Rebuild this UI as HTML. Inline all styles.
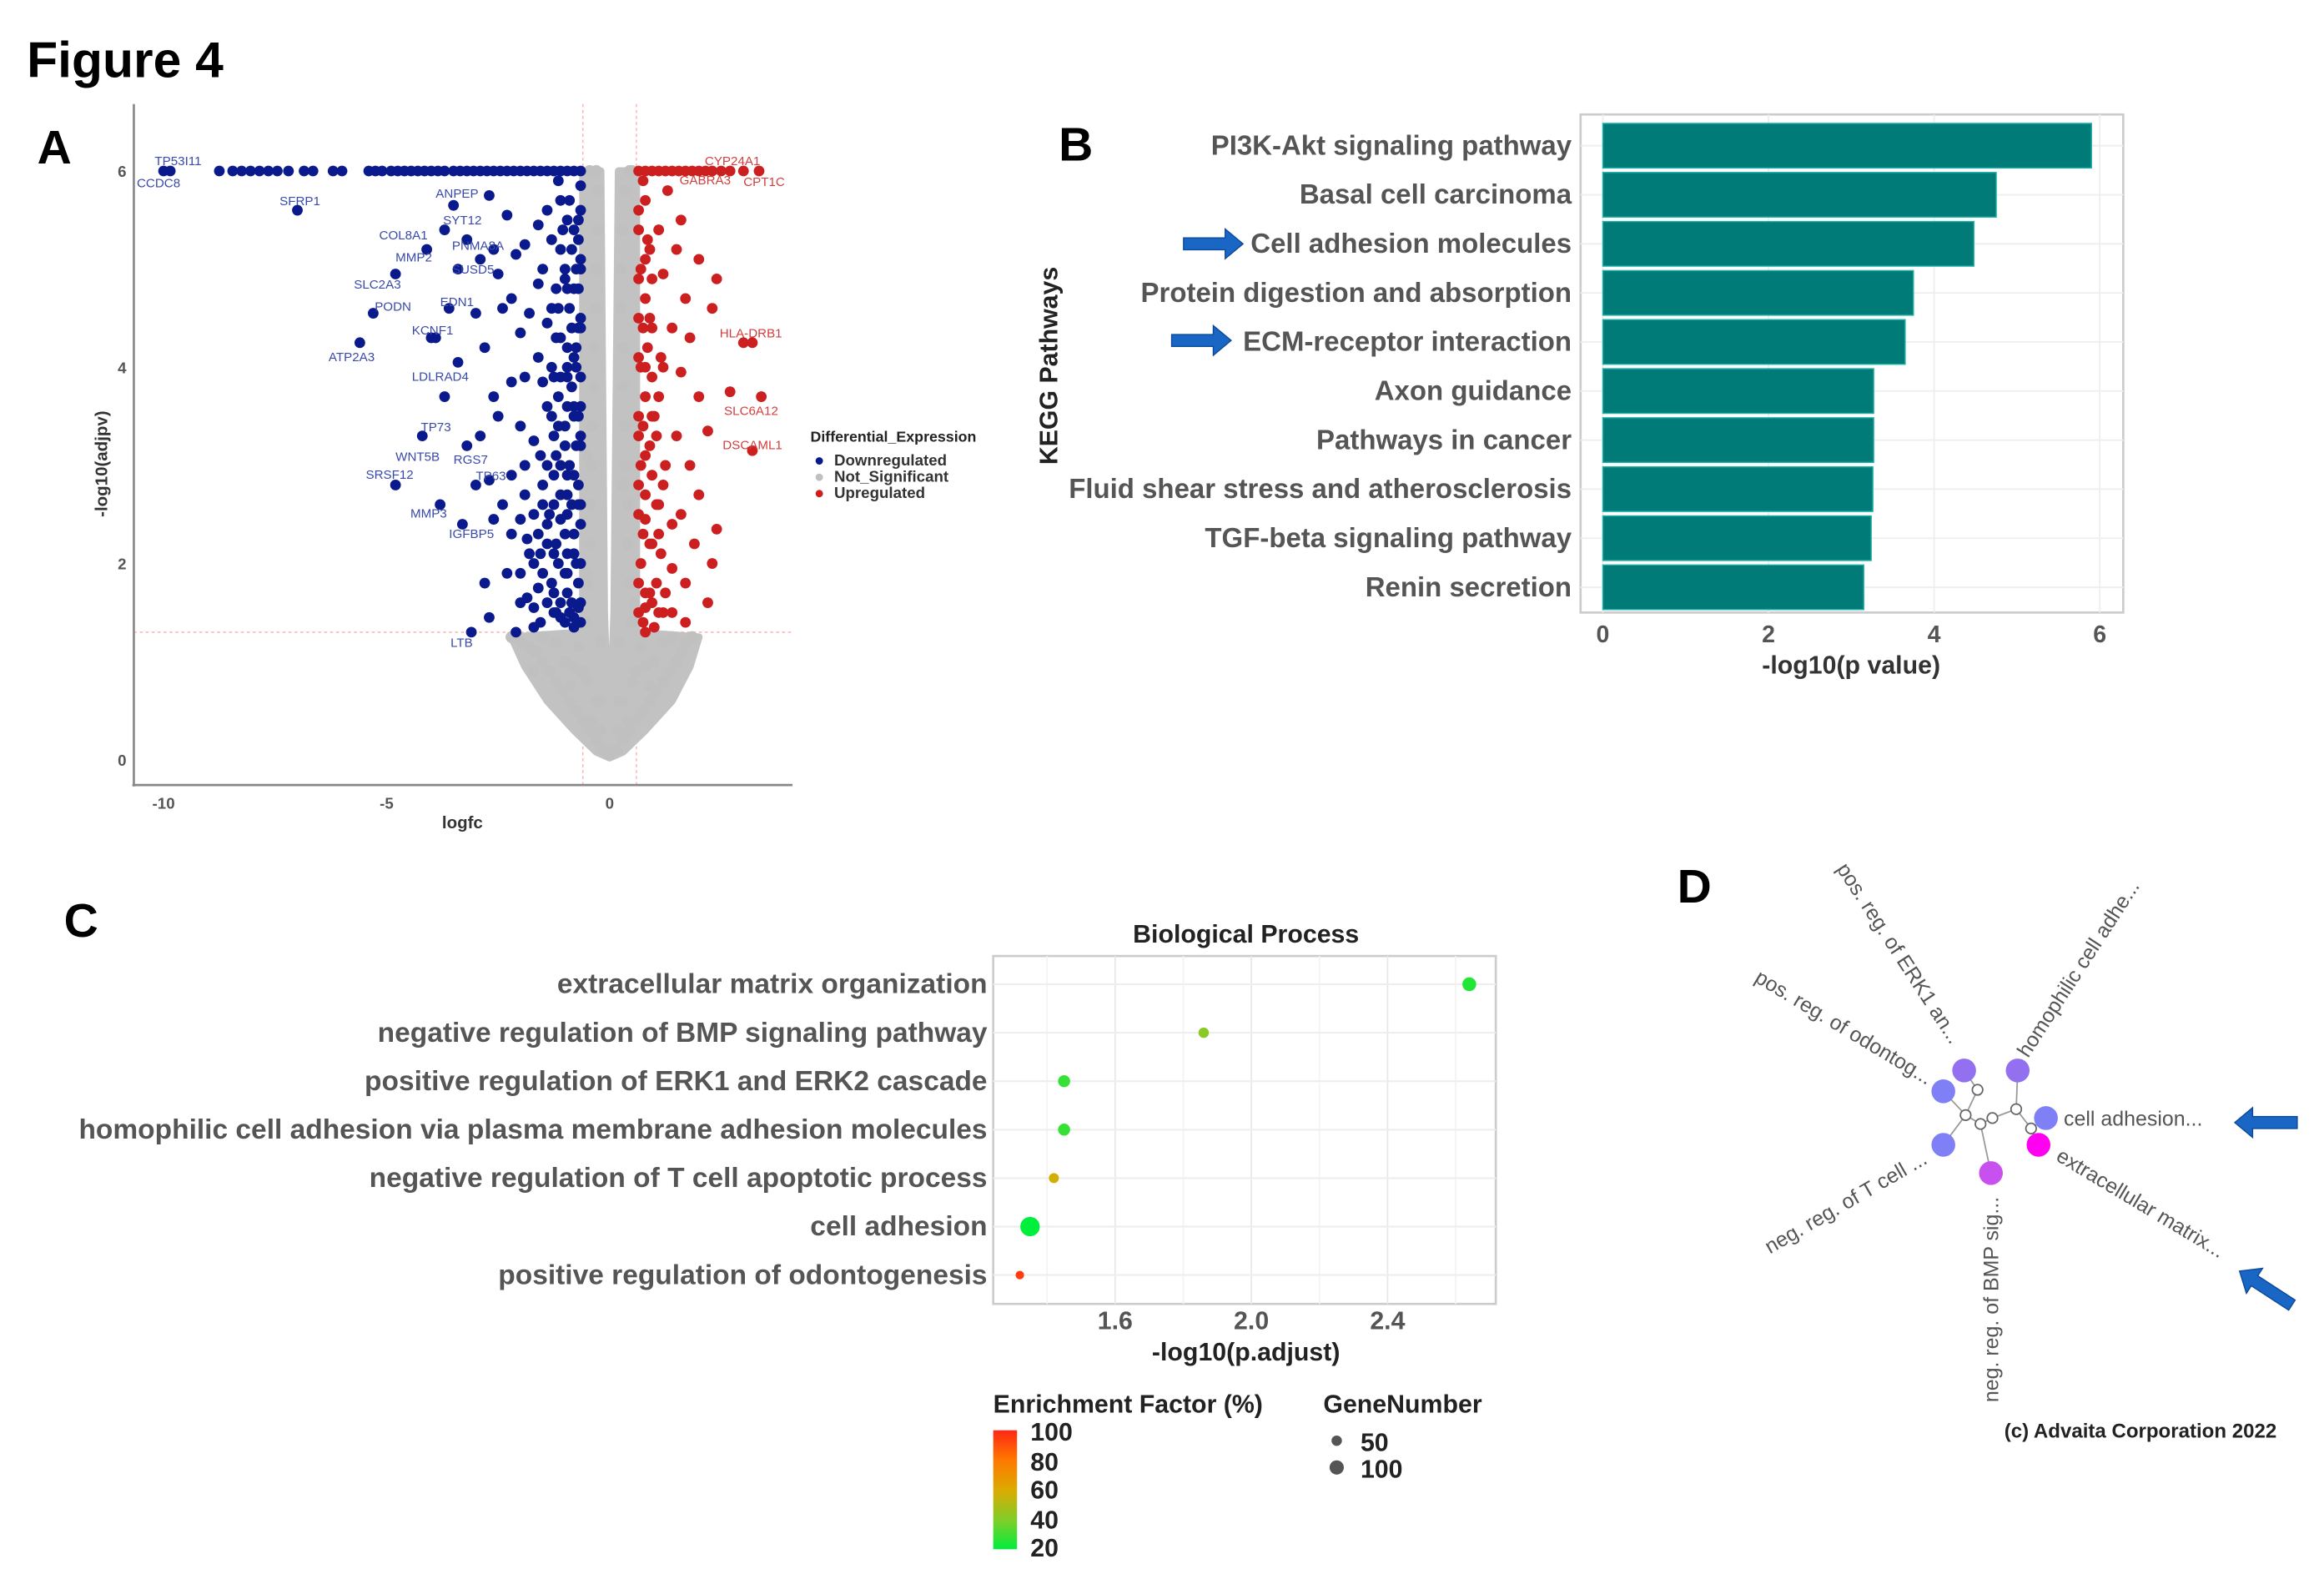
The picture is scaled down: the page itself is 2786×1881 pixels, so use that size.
<!DOCTYPE html>
<html><head><meta charset="utf-8"><style>
html,body{margin:0;padding:0;background:#fff}
svg{display:block}
text{font-family:"Liberation Sans",Arial,sans-serif}
</style></head><body>
<svg id="fig" width="2786" height="1881" viewBox="0 0 1563 1055.3" xmlns="http://www.w3.org/2000/svg">
<rect width="1563" height="1056" fill="#fff"/>
<text x="18" y="52" font-size="34" font-weight="bold">Figure 4</text>
<text x="25" y="110" font-size="32" font-weight="bold">A</text>
<text x="712" y="108" font-size="32" font-weight="bold">B</text>
<text x="43" y="630" font-size="32" font-weight="bold">C</text>
<text x="1128" y="607" font-size="32" font-weight="bold">D</text>
<g id="volcano"></g>
<g id="kegg"></g>
<g id="bp"></g>
<g id="net"></g>
</svg>
<script>
// ---------- Panel A data ----------
const downX=[-10,-9.85,-8.75,-8.45,-8.25,-8.05,-7.85,-7.65,-7.45,-7.2,-6.85,-6.65,-6.2,-6.0,-5.4,-5.25,-5.1,-4.9,-4.75,-4.6,-4.45,-4.3,-4.15,-4.0,-3.85,-3.7,-3.5,-3.35,-3.2,-3.05,-2.9,-2.75,-2.6,-2.45,-2.3,-2.15,-2.0,-1.85,-1.7,-1.55,-1.4,-1.25,-1.1,-0.95,-0.8,-0.65,
-7,-3.5,-2.7,-2.3,-1.6,-1.1,-3.7,-3.2,-4.1,-2.6,-2.1,-1.3,-1.9,-3.4,-2.5,-4.8,-1.6,-2.2,-1.2,-5.3,-3.9,-3.6,-3.0,-2.4,-1.8,-1.4,-5.6,-4.0,-2.8,-2.0,-1.6,-1.2,-3.4,-2.2,-1.9,-1.5,-2.6,-4.2,-3.2,-2.5,-2.0,-1.7,-1.3,-4.8,-3.0,-2.7,-2.2,-1.9,-1.5,-3.8,-3.3,-2.6,-2.2,-1.8,-1.4,-2.8,-2.3,-2.0,-1.6,-1.2,-2.7,-2.1,-1.7,-3.1,-2.4,-1.9,-2.9,-3.7,-1.5,-2.9,
-0.65,-0.9,-1.1,-0.7,-1.0,-0.8,-1.2,-0.65,-0.95,-1.1,-0.7,-0.9,-1.2,-0.65,-1.0,-0.8,-1.15,-0.65,-0.95,-0.75,-1.1,-0.65,-0.9,-0.7,-1.0,-0.65,-0.85,-1.05,-0.7,-0.9,-0.65,-0.8,-1.3,-1.35,-1.4,-1.3,-1.3,-1.4,-0.75,-0.75,-0.75,-0.75,-0.85,-0.85,-0.85,-0.85,-1.0,-1.0,-1.0,-1.0,-1.15,-1.15,-1.15,-1.15,-0.7,-0.7,-0.7,-0.7,-0.7,-0.95,-0.95,-0.95,-0.95,-1.25,-1.25,-1.25,-1.5,-1.5,-1.6,-1.7,
-0.65,-0.65,-0.65,-0.65,-0.65,-0.65,-0.65,-0.65,-0.8,-0.8,-0.8,-0.8,-0.8,-0.8,-0.8,-0.95,-0.95,-0.95,-0.95,-0.95,-0.95,-1.1,-1.1,-1.1,-1.1,-1.1,-1.25,-1.25,-1.25,-1.25,-1.4,-1.4,-1.4,-1.55,-1.55,-1.55,-1.7,-1.7,-1.85,-1.85,-2.0,-2.0];
const downY=[6,6,6,6,6,6,6,6,6,6,6,6,6,6,6,6,6,6,6,6,6,6,6,6,6,6,6,6,6,6,6,6,6,6,6,6,6,6,6,6,6,6,6,6,6,6,
5.6,5.65,5.75,5.55,5.45,5.7,5.4,5.3,5.2,5.2,5.15,5.3,5.25,5.0,4.95,4.95,4.85,4.7,4.8,4.55,4.3,4.6,4.55,4.6,4.55,4.45,4.25,4.3,4.2,4.35,4.1,4.3,4.05,3.85,3.9,3.85,3.7,3.3,3.2,3.5,3.4,3.25,3.5,2.8,2.8,2.85,2.9,2.7,2.6,2.6,2.4,2.45,2.3,2.1,2.2,1.8,1.9,1.6,1.75,1.5,1.45,1.3,1.35,1.3,2.6,3.0,3.3,3.7,5.0,5.1,
1.4,1.5,1.6,1.8,1.9,2.1,2.2,2.4,2.5,2.7,2.8,3.0,3.1,3.3,3.4,3.6,3.7,3.9,4.0,4.2,4.3,4.5,4.6,4.8,4.9,5.1,5.2,5.4,5.5,5.7,5.85,1.35,1.8,2.5,3.0,4.0,4.6,5.6,2.0,3.2,4.0,5.0,1.6,2.6,3.8,4.4,1.4,2.3,3.2,5.0,2.0,3.4,4.6,5.9,1.55,2.6,3.5,4.4,5.3,1.9,2.9,3.9,5.5,1.7,2.9,3.9,1.9,2.8,2.3,2.0,
1.6,2.0,2.6,3.2,3.6,4.4,5.0,5.6,1.45,2.3,2.9,3.5,4.1,4.8,5.4,1.7,2.1,2.7,3.6,4.2,4.8,1.45,2.45,3.0,3.9,5.2,1.5,2.1,2.6,3.3,1.6,2.4,3.6,1.4,2.1,3.1,1.55,2.5,1.65,2.25,1.9,2.45];
const upX=[0.65,0.8,0.95,1.1,1.25,1.4,1.55,1.7,1.85,2.0,2.15,2.3,2.5,2.7,3.0,3.35,
0.8,1.3,1.1,1.6,0.9,1.5,2.0,1.2,2.4,1.7,2.3,0.9,1.4,1.8,3.0,3.2,1.2,1.6,2.7,3.4,2.0,1.0,1.5,2.2,3.2,1.8,1.2,2.0,1.6,2.4,1.1,1.9,2.3,1.4,0.9,1.7,2.2,1.2,1.7,0.8,1.0,
0.65,0.8,0.7,0.9,0.65,0.8,0.7,0.9,0.65,0.8,0.7,0.85,0.65,0.8,0.7,0.85,0.65,0.75,0.95,0.95,0.95,0.75,0.75,0.75,0.75,1.05,1.05,1.05,1.15,1.15,
0.65,0.65,0.65,0.65,0.65,0.65,0.8,0.8,0.8,0.8,0.8,0.95,0.95,0.95,0.95,1.1,1.1,1.1,1.25,1.25,1.4,1.4];
const upY=[6,6,6,6,6,6,6,6,6,6,6,6,6,6,6,6,
5.7,5.8,5.4,5.5,5.2,5.2,5.1,4.95,4.9,4.7,4.6,4.5,4.4,4.3,4.25,4.25,4.0,3.95,3.75,3.7,3.7,3.5,3.3,3.35,3.15,3.0,2.8,2.7,2.5,2.35,2.3,2.2,2.0,1.95,1.7,1.8,1.6,1.5,1.4,1.3,1.35,
1.5,1.7,2.0,2.2,2.5,2.7,3.0,3.2,3.5,3.7,4.0,4.2,4.5,4.7,5.0,5.3,5.6,5.9,2.9,3.9,4.9,1.4,2.3,3.4,4.4,1.8,2.6,3.3,2.1,4.1,
1.8,2.8,3.3,4.1,4.9,5.4,1.55,2.45,3.1,4.0,5.1,1.6,2.2,3.5,4.4,1.5,2.6,3.7,1.7,3.0,1.5,2.4];
// outline of the dense non-significant cloud (logfc, -log10 p)
const nsEdgeX=[-0.6,-0.6,-2.2,-1.9,-1.4,-0.8,-0.3,0,0.3,0.8,1.4,1.8,2.0,0.6,0.6,0.2,0.1,0.03,-0.05,-0.12,-0.2];
const nsEdgeY=[6,1.3,1.25,0.95,0.6,0.3,0.08,0.02,0.08,0.3,0.6,0.95,1.25,1.3,6,6,1.5,0.6,0.6,1.5,6];
const nsX=[0,-0.15,0.15,-0.3,0.3,-0.45,0.45,-0.6,0.6,-0.75,0.75,-0.9,0.9,-1.05,1.05,-1.2,1.2,-1.35,1.35,-1.5,1.5,-1.65,1.6,-1.8,1.7,-2.0,1.85,-2.2,-1.0,1.0,-0.5,0.5,-1.2,1.2,-0.8,0.8,-0.3,0.3,-0.6,0.6,-1.5,1.4,-1.7,-0.4,0.4,-0.9,0.9,-0.2,0.2,-0.7,0.7,
-0.55,-0.5,-0.45,-0.45,-0.4,-0.4,-0.35,-0.35,-0.3,-0.3,-0.25,-0.25,-0.3,-0.45,-0.55,-0.5,-0.2,-0.2,
0.5,0.45,0.4,0.4,0.35,0.35,0.3,0.3,0.25,0.25,0.3,0.35,0.45,0.5,0.55,0.2,0.2,0.3];
const nsY=[0.05,0.1,0.1,0.2,0.2,0.3,0.3,0.4,0.4,0.5,0.5,0.6,0.6,0.7,0.7,0.8,0.8,0.9,0.9,1.0,1.0,1.1,1.1,1.15,1.2,1.2,1.25,1.25,1.0,1.0,0.8,0.8,1.2,1.2,0.95,0.95,0.6,0.6,0.9,0.9,1.25,1.25,0.9,0.4,0.4,0.75,0.75,0.3,0.3,1.15,1.15,
1.4,1.8,2.2,2.6,3.0,3.4,3.8,4.2,4.6,5.0,5.4,5.8,6.0,6.0,1.9,3.1,1.2,0.6,
1.4,1.8,2.2,2.6,3.0,3.4,3.8,4.2,4.6,5.0,5.4,5.8,6.0,6.0,1.6,1.2,0.6,2.8];
const vTicksX=[-10,-5,0];
const vTicksY=[0,2,4,6];

// ---------- Panel B data ----------
const keggNames=["PI3K-Akt signaling pathway","Basal cell carcinoma","Cell adhesion molecules","Protein digestion and absorption","ECM-receptor interaction","Axon guidance","Pathways in cancer","Fluid shear stress and atherosclerosis","TGF-beta signaling pathway","Renin secretion"];
const keggValues=[5.9,4.75,4.48,3.75,3.65,3.27,3.27,3.26,3.24,3.15];
const keggTicks=[0,2,4,6];

// ---------- Panel C data ----------
const bpNames=["extracellular matrix organization","negative regulation of BMP signaling pathway","positive regulation of ERK1 and ERK2 cascade","homophilic cell adhesion via plasma membrane adhesion molecules","negative regulation of T cell apoptotic process","cell adhesion","positive regulation of odontogenesis"];
const bpPadj=[2.64,1.86,1.45,1.45,1.42,1.35,1.32];
const bpEnrich=[25,42,28,28,58,20,95];
const bpGenes=[60,25,40,40,22,150,12];
const bpTicks=[1.6,2.0,2.4];

const NS="http://www.w3.org/2000/svg";
function mk(parent,tag,attrs,txt){const e=document.createElementNS(NS,tag);for(const k in attrs)e.setAttribute(k,attrs[k]);if(txt!==undefined)e.textContent=txt;parent.appendChild(e);return e;}

// ===== Volcano =====
(function(){
const g=document.getElementById('volcano');
const sx=v=>410+v*30, sy=v=>511-v*66;
let e;
e=mk(g,'line',{x1:sx(-0.6),x2:sx(-0.6),y1:70,y2:528,stroke:'#ffb0b0','stroke-width':0.8,'stroke-dasharray':'2,2'});

e=mk(g,'line',{x1:sx(0.6),x2:sx(0.6),y1:70,y2:528,stroke:'#ffb0b0','stroke-width':0.8,'stroke-dasharray':'2,2'});

e=mk(g,'line',{x1:90,x2:533,y1:sy(1.3),y2:sy(1.3),stroke:'#ffb0b0','stroke-width':0.8,'stroke-dasharray':'2,2'});

// gray cloud
let d='';nsEdgeX.forEach((v,i)=>{d+=(i?'L':'M')+sx(v)+','+sy(nsEdgeY[i]);});
e=mk(g,'path',{d:d+'Z',fill:'#c2c2c2',stroke:'#c2c2c2','stroke-width':5,'stroke-linejoin':'round'});

for(let i=0;i<nsX.length;i++){
 e=mk(g,'circle',{cx:sx(nsX[i]),cy:sy(nsY[i]),r:4,fill:'#c0c0c0'});
 
}
for(let i=0;i<downX.length;i++){
 e=mk(g,'circle',{cx:sx(downX[i]),cy:sy(downY[i]),r:3.6,fill:'#0a1a8c'});
 
}
for(let i=0;i<upX.length;i++){
 e=mk(g,'circle',{cx:sx(upX[i]),cy:sy(upY[i]),r:3.6,fill:'#cc2020'});
 
}
e=mk(g,'line',{x1:90,x2:90,y1:70,y2:529,stroke:'#888','stroke-width':1.5});

e=mk(g,'line',{x1:89,x2:533,y1:528,y2:528,stroke:'#888','stroke-width':1.5});

vTicksX.forEach(t=>{e=mk(g,'text',{x:sx(t),y:544,'font-size':10.5,'font-weight':'bold',fill:'#555','text-anchor':'middle'},String(t));
 });
vTicksY.forEach(t=>{e=mk(g,'text',{x:85,y:sy(t)+4,'font-size':10.5,'font-weight':'bold',fill:'#555','text-anchor':'end'},String(t));
 });
e=mk(g,'text',{x:311,y:557,'font-size':11.5,'font-weight':'bold',fill:'#333','text-anchor':'middle'},'logfc');

e=mk(g,'text',{x:0,y:0,'font-size':11.5,'font-weight':'bold',fill:'#333','text-anchor':'middle',transform:'translate(72,312) rotate(-90)'},'-log10(adjpv)');

const bl=[["TP53I11",104,111],["CCDC8",92,126],["SFRP1",188,138],["ANPEP",293,133],["SYT12",298,151],["COL8A1",255,161],["PNMA8A",304,168],["MMP2",266,176],["SUSD5",304,184],["SLC2A3",238,194],["PODN",252,209],["EDN1",296,206],["KCNF1",277,225],["ATP2A3",221,243],["LDLRAD4",277,256],["TP73",283,290],["WNT5B",266,310],["RGS7",305,312],["SRSF12",246,322],["TP63",320,323],["MMP3",276,348],["IGFBP5",302,362],["LTB",303,435]];
bl.forEach(a=>{e=mk(g,'text',{x:a[1],y:a[2],'font-size':8.5,fill:'#3a4aa8'},a[0]);
 });
const rl=[["CYP24A1",474,111],["GABRA3",457,124],["CPT1C",500,125],["HLA-DRB1",484,227],["SLC6A12",487,279],["DSCAML1",486,302]];
rl.forEach(a=>{e=mk(g,'text',{x:a[1],y:a[2],'font-size':8.5,fill:'#d04040'},a[0]);
 });
e=mk(g,'text',{x:545,y:297,'font-size':10,'font-weight':'bold',fill:'#222'},'Differential_Expression');

[["Downregulated","#0a1a8c",313],["Not_Significant","#c0c0c0",324],["Upregulated","#cc2020",335]].forEach(a=>{
 e=mk(g,'circle',{cx:551,cy:a[2]-3,r:2.5,fill:a[1]});
 
 e=mk(g,'text',{x:561,y:a[2],'font-size':10.5,'font-weight':'bold',fill:'#333'},a[0]);
 
});
})();

// ===== KEGG bars =====
(function(){
const g=document.getElementById('kegg');
const sx=v=>1078+v*55.7; const rowY=i=>98+i*33;
let e;
e=mk(g,'rect',{x:1063,y:77,width:365,height:335,fill:'#fff',stroke:'#ccc','stroke-width':1.5});

keggTicks.forEach(t=>{e=mk(g,'line',{x1:sx(t),x2:sx(t),y1:77,y2:412,stroke:'#eee','stroke-width':1});
 });
keggNames.forEach((n,i)=>{
 e=mk(g,'line',{x1:1063,x2:1428,y1:rowY(i),y2:rowY(i),stroke:'#eee','stroke-width':1});
 
});
keggNames.forEach((n,i)=>{
 e=mk(g,'rect',{x:sx(0),y:rowY(i)-15,width:sx(keggValues[i])-sx(0),height:30,fill:'#007b78',stroke:'#20b0a8','stroke-width':0.8});
 
 e=mk(g,'text',{x:1057,y:rowY(i)+6,'font-size':18.5,'font-weight':'bold',fill:'#555','text-anchor':'end'},n);
 
});
keggTicks.forEach(t=>{e=mk(g,'text',{x:sx(t),y:432,'font-size':16,'font-weight':'bold',fill:'#555','text-anchor':'middle'},String(t));
 });
e=mk(g,'text',{x:1245,y:453,'font-size':17,'font-weight':'bold',fill:'#333','text-anchor':'middle'},'-log10(p value)');

e=mk(g,'text',{x:0,y:0,'font-size':17,'font-weight':'bold',fill:'#222','text-anchor':'middle',transform:'translate(711,246) rotate(-90)'},'KEGG Pathways');

[[796,164],[788,229]].forEach(a=>{
 e=mk(g,'path',{d:`M${a[0]},${a[1]-4} h28 v-6 l12,10 l-12,10 v-6 h-28 z`,fill:'#1a66c4',stroke:'#0d4a9a','stroke-width':0.8});
 
});
})();

// ===== Biological process dot plot =====
(function(){
const g=document.getElementById('bp');
const sx=v=>750+(v-1.6)*229; const rowY=i=>662+i*32.6;
let e;
e=mk(g,'rect',{x:668,y:643,width:338,height:234,fill:'#fff',stroke:'#ccc','stroke-width':1.5});

[1.4,1.8,2.2,2.6].forEach(t=>{e=mk(g,'line',{x1:sx(t),x2:sx(t),y1:643,y2:877,stroke:'#f3f3f3','stroke-width':1});
 });
bpTicks.forEach(t=>{e=mk(g,'line',{x1:sx(t),x2:sx(t),y1:643,y2:877,stroke:'#e8e8e8','stroke-width':1});
 });
function col(v){const stops=[[20,[0,238,60]],[40,[130,205,40]],[60,[220,170,0]],[80,[255,120,0]],[100,[255,40,20]]];
 for(let i=0;i<stops.length-1;i++){if(v<=stops[i+1][0]){const f=(v-stops[i][0])/(stops[i+1][0]-stops[i][0]);const a=stops[i][1],b=stops[i+1][1];return `rgb(${a.map((c,j)=>Math.round(c+(b[j]-c)*f)).join(',')})`;}}return 'rgb(255,40,20)';}
bpNames.forEach((n,i)=>{
 e=mk(g,'line',{x1:668,x2:1006,y1:rowY(i),y2:rowY(i),stroke:'#eee','stroke-width':1.2});
 
 e=mk(g,'text',{x:664,y:rowY(i)+6,'font-size':18.8,'font-weight':'bold',fill:'#555','text-anchor':'end'},n);
 
});
bpNames.forEach((n,i)=>{
 e=mk(g,'circle',{cx:sx(bpPadj[i]),cy:rowY(i),r:1.4+Math.sqrt(bpGenes[i])*0.42,fill:col(bpEnrich[i])});
 
});
bpTicks.forEach(t=>{e=mk(g,'text',{x:sx(t),y:894,'font-size':17,'font-weight':'bold',fill:'#555','text-anchor':'middle'},t.toFixed(1));
 });
e=mk(g,'text',{x:838,y:634,'font-size':17,'font-weight':'bold',fill:'#222','text-anchor':'middle'},'Biological Process');

e=mk(g,'text',{x:838,y:915,'font-size':17,'font-weight':'bold',fill:'#222','text-anchor':'middle'},'-log10(p.adjust)');

e=mk(g,'text',{x:668,y:950,'font-size':17,'font-weight':'bold',fill:'#222'},'Enrichment Factor (%)');

const defs=mk(g,'defs',{});const lg=mk(defs,'linearGradient',{id:'cg',x1:0,y1:1,x2:0,y2:0});
[[0,20],[0.25,40],[0.5,60],[0.75,80],[1,100]].forEach(s=>mk(lg,'stop',{offset:s[0],'stop-color':col(s[1])}));
e=mk(g,'rect',{x:668,y:962,width:16,height:80,fill:'url(#cg)'});

[[100,969],[80,989],[60,1008],[40,1028],[20,1047]].forEach(a=>{
 e=mk(g,'text',{x:693,y:a[1],'font-size':17,'font-weight':'bold',fill:'#222'},String(a[0]));
 });
e=mk(g,'text',{x:890,y:950,'font-size':17,'font-weight':'bold',fill:'#222'},'GeneNumber');

[[50,972,3.5],[100,990,4.8]].forEach(a=>{
 e=mk(g,'circle',{cx:899,cy:a[1]-3,r:a[2],fill:'#555'});
 
 e=mk(g,'text',{x:915,y:a[1]+4,'font-size':17,'font-weight':'bold',fill:'#222'},String(a[0]));
 });
})();

// ===== Network panel D =====
(function(){
const g=document.getElementById('net');
let e;
const hubs=[[1330,733],[1322,750],[1332,756],[1340,752],[1356,746],[1366,759]];
const edges=[[1321,720,1330,733],[1307,734,1322,750],[1330,733,1322,750],[1322,750,1307,770],[1322,750,1332,756],[1332,756,1340,752],[1332,756,1339,789],[1340,752,1356,746],[1356,746,1357,720],[1356,746,1366,759],[1366,759,1376,752],[1366,759,1371,770]];
edges.forEach(a=>{e=mk(g,'line',{x1:a[0],y1:a[1],x2:a[2],y2:a[3],stroke:'#999','stroke-width':1});
 });
hubs.forEach(a=>{e=mk(g,'circle',{cx:a[0],cy:a[1],r:3.5,fill:'#fff',stroke:'#666','stroke-width':1});
 });
[[1321,720,'#9370f0'],[1307,734,'#7f80f5'],[1357,720,'#9370f0'],[1376,752,'#7f80f5'],[1371,770,'#ff00f0'],[1307,770,'#7f80f5'],[1339,789,'#c850ee']].forEach(a=>{
 e=mk(g,'circle',{cx:a[0],cy:a[1],r:8,fill:a[2]});
 });
const labs=[["pos. reg. of ERK1 an...",1312,703,57,'end'],["homophilic cell adhe...",1364,712,-57,'start'],["pos. reg. of odontog...",1296,730,31,'end'],["cell adhesion...",1388,757,0,'start'],["extracellular matrix...",1382,780,31,'start'],["neg. reg. of BMP sig...",1344,805,-90,'end'],["neg. reg. of T cell ...",1297,782,-30,'end']];
labs.forEach(a=>{e=mk(g,'text',{x:0,y:0,'font-size':14,fill:'#555','text-anchor':a[4],transform:`translate(${a[1]},${a[2]}) rotate(${a[3]})`},a[0]);
 });
e=mk(g,'text',{x:1348,y:967,'font-size':13.5,'font-weight':'bold',fill:'#222'},'(c) Advaita Corporation 2022');

e=mk(g,'path',{d:'M1545,751 h-30 v-6 l-12,10 l12,10 v-6 h30 z',fill:'#1a66c4',stroke:'#0d4a9a','stroke-width':0.8});

e=mk(g,'path',{d:'M1545,755 h-30 v-6 l-12,10 l12,10 v-6 h30 z',fill:'#1a66c4',stroke:'#0d4a9a','stroke-width':0.8,transform:'translate(2,108) rotate(33 1524 755)'});

})();
</script>
</body></html>
